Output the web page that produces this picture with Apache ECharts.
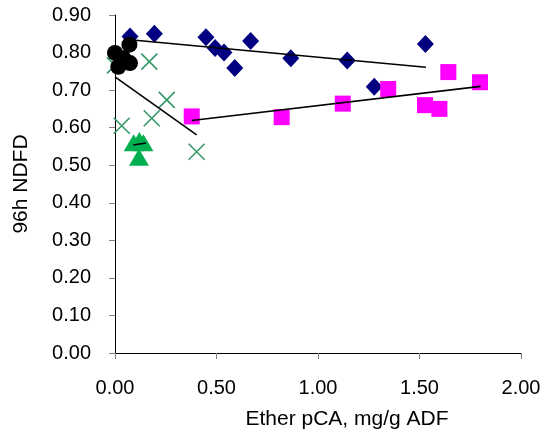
<!DOCTYPE html>
<html>
<head>
<meta charset="utf-8">
<script src="https://cdn.jsdelivr.net/npm/echarts@6/dist/echarts.min.js"></script>
<style>
  html, body { margin: 0; padding: 0; background: #fff; }
  #chart { width: 547px; height: 439px; }
</style>
</head>
<body>
<div id="chart"></div>
<script>
// Ether pCA (mg/g ADF) vs 96h NDFD, one group per marker style
const diamondPts = [
  [0.074, 0.843], [0.194, 0.850], [0.448, 0.841], [0.493, 0.812],
  [0.537, 0.800], [0.590, 0.759], [0.668, 0.831], [0.866, 0.785],
  [1.144, 0.779], [1.277, 0.709], [1.529, 0.823]
];
const squarePts = [
  [0.378, 0.630], [0.821, 0.628], [1.122, 0.664], [1.346, 0.703],
  [1.642, 0.748], [1.527, 0.660], [1.598, 0.650], [1.798, 0.721]
];
const trianglePts = [
  [0.092, 0.560], [0.120, 0.566], [0.140, 0.560], [0.118, 0.521]
];
const crossPts = [
  [0.000, 0.766], [0.169, 0.776], [0.255, 0.674], [0.181, 0.625],
  [0.033, 0.605], [0.402, 0.536]
];
const circlePts = [
  [0.000, 0.799], [0.071, 0.821], [0.041, 0.785], [0.074, 0.772], [0.016, 0.762]
];

// Fitted trend lines (start and end points)
const diamondTrend = [[0.074, 0.834], [1.532, 0.761]];
const squareTrend = [[0.378, 0.619], [1.801, 0.710]];
const crossTrend = [[0.000, 0.735], [0.402, 0.581]];
const triangleTrend = [[0.090, 0.554], [0.153, 0.559]];

const xTicks = { min: 0, max: 2, interval: 0.5 };
const yTicks = { min: 0, max: 0.9, interval: 0.1 };

const FONT = '"Liberation Sans", Arial, sans-serif';
const chart = echarts.init(document.getElementById('chart'), null, { renderer: 'canvas' });

function trend(data) {
  return {
    type: 'line', data: data, symbol: 'none', z: 5, silent: true,
    lineStyle: { color: '#000', width: 1.6 }
  };
}

chart.setOption({
  backgroundColor: '#fff',
  animation: false,
  grid: { left: 115, right: 26, top: 15, bottom: 86 },
  xAxis: {
    type: 'value', min: xTicks.min, max: xTicks.max, interval: xTicks.interval,
    name: 'Ether pCA, mg/g ADF', nameLocation: 'middle', nameGap: 56,
    nameTextStyle: { fontFamily: FONT, fontSize: 21, color: '#000', padding: [0, 0, 0, 58] },
    axisLine: { lineStyle: { color: '#000', width: 1 } },
    axisTick: { show: true, inside: false, length: 6, lineStyle: { color: '#808080' } },
    axisLabel: { fontFamily: FONT, fontSize: 20, color: '#000', margin: 25,
      formatter: v => v.toFixed(2) },
    splitLine: { show: false }
  },
  yAxis: {
    type: 'value', min: yTicks.min, max: yTicks.max, interval: yTicks.interval,
    name: '96h NDFD', nameLocation: 'middle', nameGap: 83, nameRotate: 90,
    nameTextStyle: { fontFamily: FONT, fontSize: 21, color: '#000' },
    axisLine: { show: true, lineStyle: { color: '#000', width: 1 } },
    axisTick: { show: true, inside: false, length: 6, lineStyle: { color: '#808080' } },
    axisLabel: { fontFamily: FONT, fontSize: 20, color: '#000', margin: 24,
      formatter: v => v.toFixed(2) },
    splitLine: { show: false }
  },
  series: [
    { type: 'scatter', data: diamondPts, symbol: 'diamond', symbolSize: [17, 18],
      itemStyle: { color: '#000080', opacity: 1 }, z: 2 },
    { type: 'scatter', data: squarePts, symbol: 'rect', symbolSize: 16,
      itemStyle: { color: '#FF00FF', opacity: 1 }, z: 2 },
    { type: 'scatter', data: trianglePts, symbol: 'triangle', symbolSize: [20, 17],
      itemStyle: { color: '#00B050', opacity: 1 }, z: 2 },
    { type: 'scatter', data: crossPts, symbol: 'path://M0,0L10,10M10,0L0,10', symbolSize: 16,
      itemStyle: { color: 'none', borderColor: '#339966', borderWidth: 1.6, opacity: 1 }, z: 3 },
    { type: 'scatter', data: circlePts, symbol: 'circle', symbolSize: 16,
      itemStyle: { color: '#000', opacity: 1 }, z: 4 },
    trend(diamondTrend),
    trend(squareTrend),
    trend(crossTrend),
    trend(triangleTrend)
  ]
});
</script>
</body>
</html>
